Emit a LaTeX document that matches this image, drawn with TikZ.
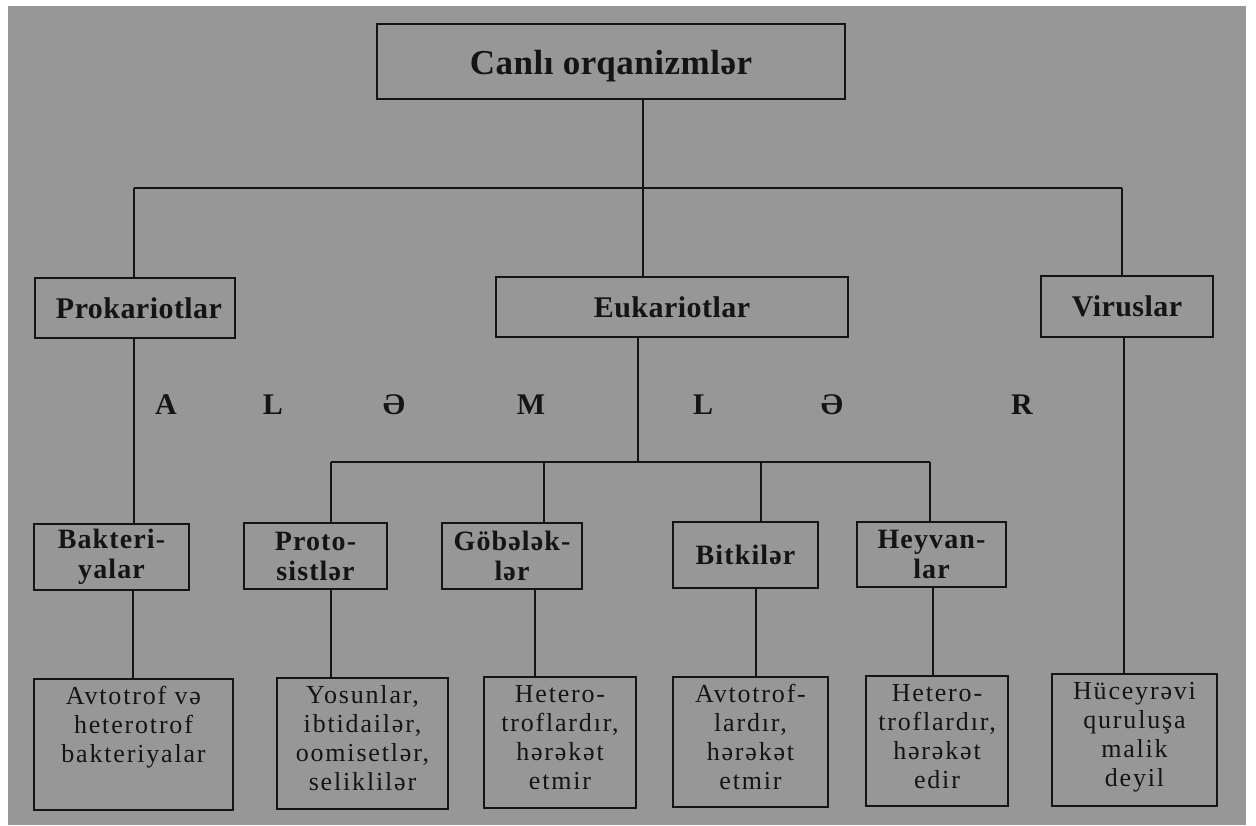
\documentclass[tikz,border=0pt]{standalone}
\usepackage{fontspec}
\setmainfont{Liberation Serif}
\newfontfamily\hdfont[LetterSpace=4]{Liberation Serif}
\newfontfamily\kfont[LetterSpace=1.5]{Liberation Serif}
\newfontfamily\txfont[LetterSpace=7]{Liberation Serif}
\definecolor{paper}{HTML}{979797}
\definecolor{ink}{HTML}{141414}
% text block of a lower box: fixed size, lines hung from the top
\newcommand{\lowtext}[3]{\parbox[c][#2][t]{#1}{\centering\txfont\fontsize{26}{29}\selectfont\rule{0pt}{25pt}#3}}
\tikzset{
  box/.style={draw=ink, line width=1.4pt, inner sep=0pt, text=ink},
  hdbox/.style={box, align=center, font=\hdfont\bfseries\fontsize{28}{30}\selectfont},
  kbox/.style={box, align=center, font=\kfont\bfseries\fontsize{30}{32}\selectfont},
  lowbox/.style={box},
  letter/.style={text=ink, inner sep=0pt, font=\bfseries\fontsize{30}{32}\selectfont},
  link/.style={draw=ink, line width=1.2pt}
}
\begin{document}
\begin{tikzpicture}[x=1pt,y=-1pt]
\useasboundingbox (0,0) rectangle (1256,825);
\fill[white] (0,0) rectangle (1256,825);
\fill[paper] (8,6) rectangle (1246,825);

% root and the three domains
\node[box, minimum width=468pt, minimum height=75pt, text height=25pt, text depth=0pt, font=\kfont\bfseries\fontsize{35}{38}\selectfont] (top) at (611,61.5) {Canlı orqanizmlər};
\node[kbox, minimum width=200pt, minimum height=60pt] (prok) at (135,308) {\hspace*{8pt}Prokariotlar};
\node[kbox, minimum width=352pt, minimum height=60pt] (euk) at (672,307) {Eukariotlar};
\node[kbox, minimum width=172pt, minimum height=61pt] (vir) at (1127,306.5) {Viruslar};

% kingdoms
\node[hdbox, minimum width=155pt, minimum height=66pt] (bak) at (111.5,557) {Bakteri-\\yalar};
\node[hdbox, minimum width=143pt, minimum height=66pt] (proto) at (315.5,556) {Proto-\\sistlər};
\node[hdbox, minimum width=140pt, minimum height=66pt] (gob) at (512,556) {Göbələk-\\lər};
\node[hdbox, minimum width=145pt, minimum height=66pt] (bit) at (745.5,555) {Bitkilər};
\node[hdbox, minimum width=149pt, minimum height=65pt] (hey) at (931.5,554.5) {Heyvan-\\lar};

% descriptions
\node[lowbox] (b1) at (133.5,744.5) {\lowtext{199pt}{131pt}{Avtotrof və\\heterotrof\\bakteriyalar}};
\node[lowbox] (b2) at (362.5,743.5) {\lowtext{171pt}{131pt}{Yosunlar,\\ibtidailər,\\oomisetlər,\\seliklilər}};
\node[lowbox] (b3) at (560,742.5) {\lowtext{152pt}{131pt}{Hetero-\\troflardır,\\hərəkət\\etmir}};
\node[lowbox] (b4) at (750.5,742) {\lowtext{155pt}{130pt}{Avtotrof-\\lardır,\\hərəkət\\etmir}};
\node[lowbox] (b5) at (937,741) {\lowtext{142pt}{130pt}{Hetero-\\troflardır,\\hərəkət\\edir}};
\node[lowbox] (b6) at (1134.5,740) {\lowtext{165pt}{132pt}{Hüceyrəvi\\quruluşa\\malik\\deyil}};

% the word spread across the kingdoms
\node[letter] (l1) at (166,405) {A};
\node[letter] (l2) at (273,405) {L};
\node[letter] (l3) at (394,405) {Ə};
\node[letter] (l4) at (531,405) {M};
\node[letter] (l5) at (703,405) {L};
\node[letter] (l6) at (832,405) {Ə};
\node[letter] (l7) at (1022,405) {R};

% junctions of the connector lines
\coordinate (jTop) at (643,188);
\coordinate (jL) at (134,188);
\coordinate (jR) at (1122,188);
\coordinate (jE) at (638,462);
\coordinate (jS1) at (331,462);
\coordinate (jS2) at (544,462);
\coordinate (jS3) at (761,462);
\coordinate (jS4) at (930,462);
\coordinate (xB) at (133,0);
\coordinate (xP) at (331,0);
\coordinate (xG) at (535,0);
\coordinate (xT) at (756,0);
\coordinate (xH) at (933,0);
\coordinate (xV) at (1124,0);

% upper tree
\draw[link] (top.south -| jTop) -- (euk.north -| jTop);
\draw[link] (jL) -- (jR);
\draw[link] (jL) -- (prok.north -| jL);
\draw[link] (jR) -- (vir.north -| jR);

% domains to kingdoms
\draw[link] (prok.south -| jL) -- (bak.north -| jL);
\draw[link] (euk.south -| jE) -- (jE);
\draw[link] (jS1) -- (jS4);
\draw[link] (jS1) -- (proto.north -| jS1);
\draw[link] (jS2) -- (gob.north -| jS2);
\draw[link] (jS3) -- (bit.north -| jS3);
\draw[link] (jS4) -- (hey.north -| jS4);

% kingdoms to descriptions
\draw[link] (bak.south -| xB) -- (b1.north -| xB);
\draw[link] (proto.south -| xP) -- (b2.north -| xP);
\draw[link] (gob.south -| xG) -- (b3.north -| xG);
\draw[link] (bit.south -| xT) -- (b4.north -| xT);
\draw[link] (hey.south -| xH) -- (b5.north -| xH);
\draw[link] (vir.south -| xV) -- (b6.north -| xV);
\end{tikzpicture}
\end{document}
